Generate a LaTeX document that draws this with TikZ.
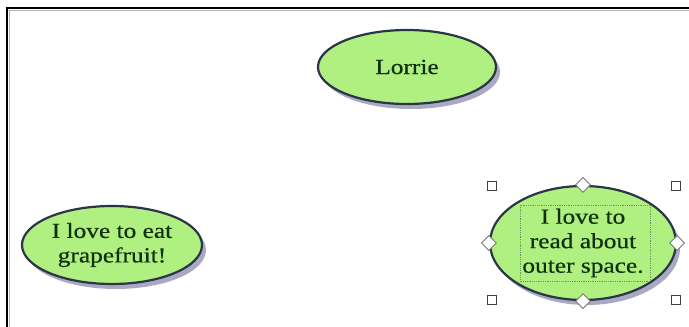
\documentclass[tikz,border=0pt]{standalone}
\usepackage{fontspec}
\setmainfont{Liberation Serif}
\newfontfamily\bubblefont[FakeStretch=1.18,FakeBold=0.6]{Liberation Serif}
\usetikzlibrary{shapes.geometric,shadows}
\definecolor{bubblefill}{HTML}{B0F080}
\definecolor{bubbleline}{HTML}{2A3548}
\definecolor{bubbletext}{HTML}{113011}
\definecolor{shadowcol}{HTML}{9A9CB8}
\definecolor{handlecol}{HTML}{404040}
\begin{document}
\begin{tikzpicture}[x=1pt,y=-1pt,
  bubble/.style={ellipse, draw=bubbleline, line width=2.2pt, fill=bubblefill,
    inner sep=0pt, text=bubbletext, align=center,
    font=\bubblefont\fontsize{21.5}{24.5}\selectfont,
    drop shadow={shadow xshift=4pt, shadow yshift=-5pt, fill=shadowcol, opacity=0.85}},
  sqhandle/.style={rectangle, draw=handlecol, line width=1.3pt, fill=white,
    minimum size=9pt, inner sep=0pt},
  dmhandle/.style={diamond, draw=handlecol!70, line width=0.9pt, fill=white,
    minimum size=15pt, inner sep=0pt},
  textframe/.style={draw=gray!80!green, densely dotted, line width=0.8pt}
]
\useasboundingbox (0,0) rectangle (689,327);
\fill[white] (0,0) rectangle (689,327);
% window frame
\draw[black, line width=2.5pt] (7,327) -- (7,8) -- (689,8);
\draw[gray!60, line width=0.8pt] (9.5,327) -- (9.5,10.5) -- (689,10.5);

\node[bubble, minimum width=178pt, minimum height=74pt] (lorrie) at (407,67) {Lorrie};
\node[bubble, minimum width=180pt, minimum height=78pt] (grape) at (112,245) {I love to eat\\grapefruit!};
\node[bubble, minimum width=186pt, minimum height=114pt] (space) at (583,243) {I love to\\read about\\outer space.};

% selection frame
\coordinate (tfa) at (520,205);
\coordinate (tfb) at (650,281);
\draw[textframe] (tfa) rectangle (tfb);

\node[sqhandle] (h1) at (492,186) {};
\node[sqhandle] (h2) at (676,186) {};
\node[sqhandle] (h3) at (492,300) {};
\node[sqhandle] (h4) at (676,300) {};
\node[dmhandle] (d1) at (space.north) {};
\node[dmhandle] (d2) at (space.south) {};
\node[dmhandle] (d3) at (space.west) {};
\node[dmhandle] (d4) at (space.east) {};
\end{tikzpicture}
\end{document}
